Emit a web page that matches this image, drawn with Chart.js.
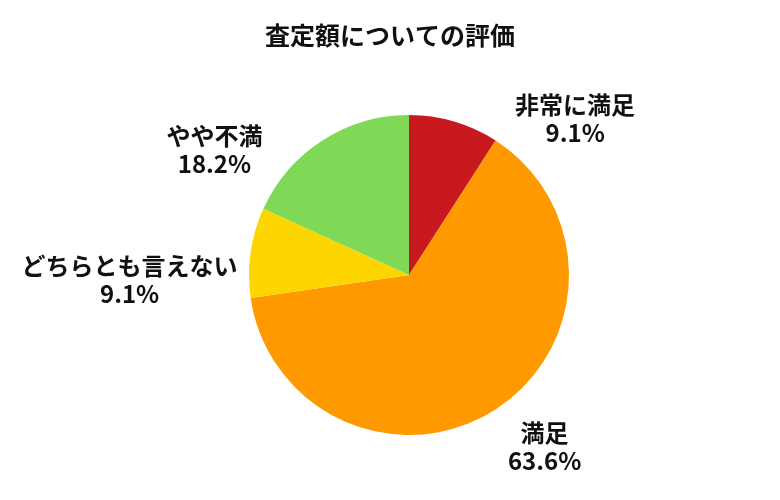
<!DOCTYPE html>
<html><head><meta charset="utf-8">
<script src="https://cdn.jsdelivr.net/npm/chart.js@4"></script>
<style>body{margin:0;background:#fff}#wrap{width:780px;height:500px}</style>
</head><body><div id="wrap"><canvas id="c"></canvas></div>
<script>
const labels = ['非常に満足', '満足', 'どちらとも言えない', 'やや不満'];
const values = [9.1, 63.6, 9.1, 18.2];
const colors = ['#C8191E', '#FF9900', '#FFD500', '#7FD957'];
const titleText = '査定額についての評価';

const FONT = '"Noto Sans CJK JP", "Noto Sans", sans-serif';
// label offsets from the slice's outer edge point
const labelOffsets = [[121, -3], [49, 37], [-121, 27], [-108, 9]];

const labelPlugin = {
	id: 'pieLabels',
	afterDraw(chart) {
		const ctx = chart.ctx;
		ctx.save();
		ctx.fillStyle = '#111';
		ctx.textAlign = 'center';
		ctx.textBaseline = 'middle';
		ctx.font = 'bold 25px ' + FONT;
		ctx.fillText(titleText, 390, 35);
		ctx.font = 'bold 24px ' + FONT;
		chart.getDatasetMeta(0).data.forEach((arc, i) => {
			const mid = (arc.startAngle + arc.endAngle) / 2;
			const x = arc.x + Math.cos(mid) * arc.outerRadius + labelOffsets[i][0];
			const y = arc.y + Math.sin(mid) * arc.outerRadius + labelOffsets[i][1];
			ctx.fillText(labels[i], x, y - 14);
			ctx.fillText(values[i].toFixed(1) + '%', x, y + 14);
		});
		ctx.restore();
	}
};

new Chart(document.getElementById('c'), {
	type: 'pie',
	data: {
		labels: labels,
		datasets: [{ data: values, backgroundColor: colors, borderWidth: 0 }]
	},
	options: {
		responsive: true,
		maintainAspectRatio: false,
		animation: false,
		layout: { padding: { top: 115, bottom: 65, left: 249, right: 211 } },
		plugins: { legend: { display: false }, tooltip: { enabled: false } }
	},
	plugins: [labelPlugin]
});
</script></body></html>
